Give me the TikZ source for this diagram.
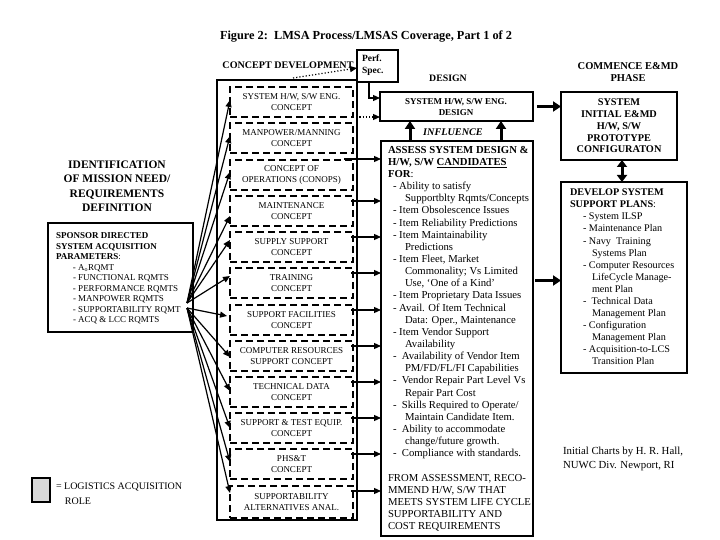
\documentclass[tikz,border=0pt]{standalone}
\usepackage{fontspec}
\setmainfont{Liberation Serif}
\usetikzlibrary{arrows.meta,calc}
\begin{document}
\begin{tikzpicture}[x=1pt,y=-1pt,
  every node/.style={inner sep=0pt,outer sep=0pt},
  box/.style={draw,line width=1.5pt,anchor=north west},
  dbox/.style={draw,line width=1.5pt,dash pattern=on 7pt off 4pt,minimum width=123pt,minimum height=30pt,anchor=north west,align=center,font=\fontsize{9}{11}\selectfont},
  arr/.style={line width=1.2pt,-{Triangle[length=7pt,width=6pt]}},
  thk/.style={line width=3pt,-{Triangle[length=8pt,width=10pt]}},
  lbl/.style={font=\bfseries\fontsize{10.5}{12}\selectfont,align=center}]
\useasboundingbox (0,0) rectangle (720,540);
% title and phase labels
\node[font=\bfseries\fontsize{12.3}{14}\selectfont] (title) at (366,37) {Figure 2:\ \ LMSA Process/LMSAS Coverage, Part 1 of 2};
\node[lbl,font=\bfseries\fontsize{10.1}{12}\selectfont] (cdlbl) at (288,65) {CONCEPT DEVELOPMENT};
\node[lbl,font=\bfseries\fontsize{9.8}{12}\selectfont] (dlbl) at (448,78) {DESIGN};
\node[lbl] (clbl) at (628,72) {COMMENCE E\&MD\\PHASE};
% left side
\node[font=\bfseries\fontsize{11.5}{14.5}\selectfont,align=center] (ident) at (117,186) {IDENTIFICATION\\OF MISSION NEED/\\REQUIREMENTS\\DEFINITION};
\node[box,minimum width=145pt,minimum height=109pt] (spon) at (48,223) {};
\node[anchor=north west,align=left,font=\fontsize{9}{10.5}\selectfont] (spontxt) at (56,233)
 {\textbf{SPONSOR DIRECTED}\\\textbf{SYSTEM ACQUISITION}\\\textbf{PARAMETERS}:\\
  \hspace*{17pt}- A\textsubscript{o}RQMT\\
  \hspace*{17pt}- FUNCTIONAL RQMTS\\
  \hspace*{17pt}- PERFORMANCE RQMTS\\
  \hspace*{17pt}- MANPOWER RQMTS\\
  \hspace*{17pt}- SUPPORTABILITY RQMT\\
  \hspace*{17pt}- ACQ \& LCC RQMTS};
% concept development
\node[box,minimum width=140pt,minimum height=440pt] (cdev) at (217,80) {};
\node[box,minimum width=41pt,minimum height=32pt] (perf) at (357,50) {};
\node[anchor=west,font=\bfseries\fontsize{9.5}{12}\selectfont,align=left] (perftxt) at (362,65) {Perf.\\Spec.};
\node[dbox] (c1) at (230,87) {SYSTEM H/W, S/W ENG.\\CONCEPT};
\node[dbox] (c2) at (230,123) {MANPOWER/MANNING\\CONCEPT};
\node[dbox] (c3) at (230,160) {CONCEPT OF\\OPERATIONS (CONOPS)};
\node[dbox] (c4) at (230,196) {MAINTENANCE\\CONCEPT};
\node[dbox] (c5) at (230,232) {SUPPLY SUPPORT\\CONCEPT};
\node[dbox] (c6) at (230,268) {TRAINING\\CONCEPT};
\node[dbox] (c7) at (230,305) {SUPPORT FACILITIES\\CONCEPT};
\node[dbox] (c8) at (230,341) {COMPUTER RESOURCES\\SUPPORT CONCEPT};
\node[dbox] (c9) at (230,377) {TECHNICAL DATA\\CONCEPT};
\node[dbox] (c10) at (230,413) {SUPPORT \& TEST EQUIP.\\CONCEPT};
\node[dbox] (c11) at (230,449) {PHS\&T\\CONCEPT};
\node[dbox,minimum height=32pt] (c12) at (230,486) {SUPPORTABILITY\\ALTERNATIVES ANAL.};
% design
\node[box,minimum width=153pt,minimum height=29pt] (design) at (380,92) {};
\node[font=\bfseries\fontsize{9}{10.5}\selectfont,align=center] (designtxt) at (456,107) {SYSTEM H/W, S/W ENG.\\DESIGN};
\node[font=\bfseries\itshape\fontsize{10.2}{12}\selectfont] (infl) at (453,132) {INFLUENCE};
\node[box,minimum width=152pt,minimum height=395pt] (cand) at (381,141) {};
\node[anchor=north west,align=left,font=\fontsize{10.7}{12.15}\selectfont] (candtxt) at (388,146)
 {\textbf{ASSESS SYSTEM DESIGN \&}\\
  \textbf{H/W, S/W \underline{CANDIDATES}}\\
  \textbf{FOR}:\\
  \hspace*{5pt}- Ability to satisfy\\
  \hspace*{17pt}Supportblty Rqmts/Concepts\\
  \hspace*{5pt}- Item Obsolescence Issues\\
  \hspace*{5pt}- Item Reliability Predictions\\
  \hspace*{5pt}- Item Maintainability\\
  \hspace*{17pt}Predictions\\
  \hspace*{5pt}- Item Fleet, Market\\
  \hspace*{17pt}Commonality; Vs Limited\\
  \hspace*{17pt}Use, `One of a Kind'\\
  \hspace*{5pt}- Item Proprietary Data Issues\\
  \hspace*{5pt}- Avail. Of Item Technical\\
  \hspace*{17pt}Data: Oper., Maintenance\\
  \hspace*{5pt}- Item Vendor Support\\
  \hspace*{17pt}Availability\\
  \hspace*{5pt}-\ \ Availability of Vendor Item\\
  \hspace*{17pt}PM/FD/FL/FI Capabilities\\
  \hspace*{5pt}-\ \ Vendor Repair Part Level Vs\\
  \hspace*{17pt}Repair Part Cost\\
  \hspace*{5pt}-\ \ Skills Required to Operate/\\
  \hspace*{17pt}Maintain Candidate Item.\\
  \hspace*{5pt}-\ \ Ability to accommodate\\
  \hspace*{17pt}change/future growth.\\
  \hspace*{5pt}-\ \ Compliance with standards.\\[12.15pt]
  FROM ASSESSMENT, RECO-\\
  MMEND H/W, S/W THAT\\
  MEETS SYSTEM LIFE CYCLE\\
  SUPPORTABILITY AND\\
  COST REQUIREMENTS};
% commence E&MD
\node[box,minimum width=116pt,minimum height=68pt] (sysinit) at (561,92) {};
\node[font=\bfseries\fontsize{10.3}{11.8}\selectfont,align=center] (sysinittxt) at (619,126) {SYSTEM\\INITIAL E\&MD\\H/W, S/W\\PROTOTYPE\\CONFIGURATON};
\node[box,minimum width=126pt,minimum height=191pt] (develop) at (561,182) {};
\node[anchor=north west,align=left,font=\fontsize{10.2}{12.07}\selectfont] (devtxt) at (570,189)
 {\textbf{DEVELOP SYSTEM}\\\textbf{SUPPORT PLANS}:\\
  \hspace*{13pt}- System ILSP\\
  \hspace*{13pt}- Maintenance Plan\\
  \hspace*{13pt}- Navy\ \ Training\\
  \hspace*{22pt}Systems Plan\\
  \hspace*{13pt}- Computer Resources\\
  \hspace*{22pt}LifeCycle Manage-\\
  \hspace*{22pt}ment Plan\\
  \hspace*{13pt}-\ \ Technical Data\\
  \hspace*{22pt}Management Plan\\
  \hspace*{13pt}- Configuration\\
  \hspace*{22pt}Management Plan\\
  \hspace*{13pt}- Acquisition-to-LCS\\
  \hspace*{22pt}Transition Plan};
% legend and credit
\node[box,minimum width=18pt,minimum height=24pt,fill=black!15] (leg) at (32,478) {};
\node[anchor=north west,align=left,font=\fontsize{10}{14.5}\selectfont] (legtxt) at (56,483) {= LOGISTICS ACQUISITION\\\hspace*{9pt}ROLE};
\node[anchor=north west,align=left,font=\fontsize{10.8}{14}\selectfont] (credit) at (563,447) {Initial Charts by H. R. Hall,\\NUWC Div. Newport, RI};
% connectors
\coordinate (dp) at (293,78);
\draw[arr,dotted] (dp) -- ($(perf.west)+(0,2)$);
\draw[arr] ($(perf.south west)+(12,0)$) |- ($(design.north west)+(0,6)$);
\draw[arr,dotted] (c1.south east) -- (c1.south east -| design.west);
\coordinate (a3) at ($(c3.north east)+(-9,-1)$);
\draw[arr] (a3) -- (a3 -| cand.west);
\foreach \i in {4,...,12} {
  \coordinate (a\i) at ($(c\i.north east)+(-2,5)$);
  \draw[arr] (a\i) -- (a\i -| cand.west);
}
\coordinate (u1) at ($(cand.north west)+(29,0)$);
\coordinate (u2) at ($(cand.north west)+(120,0)$);
\draw[thk] (u1) -- (u1 |- design.south);
\draw[thk] (u2) -- (u2 |- design.south);
\coordinate (db) at ($(design.east)+(4,0)$);
\draw[thk] (db) -- (db -| sysinit.west);
\coordinate (dc) at ($(cand.east)+(2,-58)$);
\draw[thk] (dc) -- (dc -| develop.west);
\coordinate (da) at ($(sysinit.south)+(3,0)$);
\draw[line width=3pt,{Triangle[length=7pt,width=10pt]}-{Triangle[length=7pt,width=10pt]}] (da) -- (da |- develop.north);
% fan from sponsor box
\coordinate (fu) at (187,303);
\coordinate (fl) at (187,308);
\draw[arr] (fu) -- ($(c1.north west)+(0,13)$);
\draw[arr] (fu) -- ($(c2.north west)+(0,13)$);
\draw[arr] (fu) -- ($(c3.north west)+(0,12)$);
\draw[arr] (fu) -- ($(c4.north west)+(0,20)$);
\draw[arr] (fu) -- ($(c5.north west)+(0,8)$);
\draw[arr] (fu) -- ($(c6.north west)+(0,8)$);
\draw[arr] (fl) -- ($(c7.north west)+(-3,11)$);
\draw[arr] (fl) -- ($(c8.north west)+(0,16)$);
\draw[arr] (fl) -- ($(c9.north west)+(0,14)$);
\draw[arr] (fl) -- ($(c10.north west)+(0,15)$);
\draw[arr] (fl) -- ($(c11.north west)+(0,13)$);
\draw[arr] (fl) -- ($(c12.north west)+(0,7)$);
\end{tikzpicture}
\end{document}
